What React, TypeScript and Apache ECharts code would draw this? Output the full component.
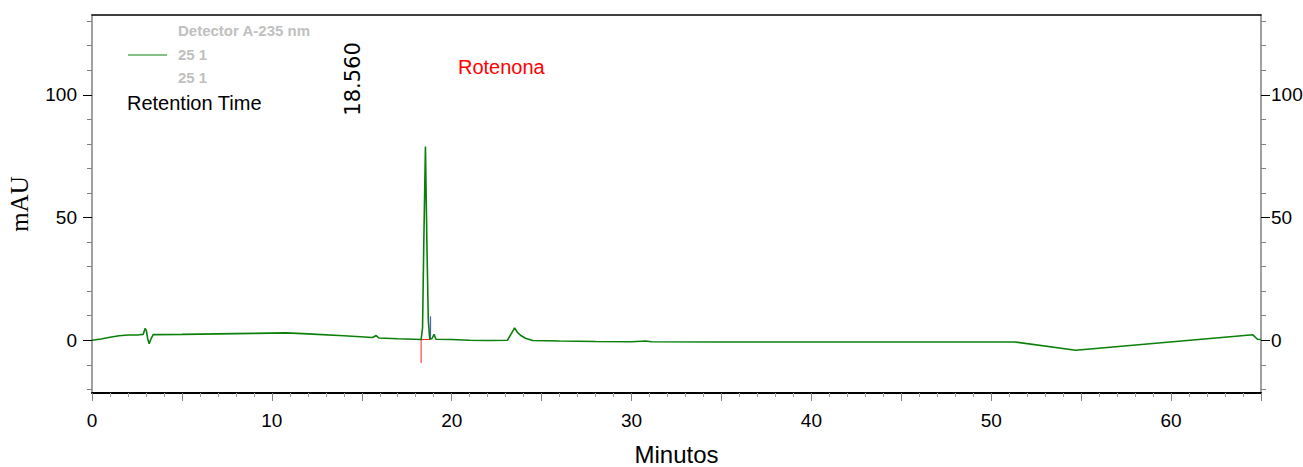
import React, { useEffect, useRef } from "react";
import * as echarts from "echarts";

// Chromatogram trace (minutes, mAU)
const timeMin = [
  0, 0.5, 1.0, 1.5, 2.0, 2.6, 2.85, 2.95, 3.02, 3.1, 3.18, 3.28, 3.4, 5, 7, 9, 10.8, 12, 14, 15.6,
  15.8, 15.95, 17, 18.3, 18.38, 18.45, 18.54, 18.62, 18.7, 18.78, 18.9, 19.02, 19.12, 20, 21, 22,
  23.1, 23.3, 23.5, 23.65, 23.87, 24.1, 24.5, 26, 28, 30, 30.8, 31.1, 35, 40, 45, 51.3, 54.7, 64.55,
  64.8, 65,
];
const absorbance = [
  0, 0.5, 1.2, 1.8, 2.1, 2.2, 2.4, 4.8, 4.0, 0.5, -1.4, 0.5, 2.3, 2.4, 2.6, 2.8, 3.0, 2.6, 1.8, 1.1,
  1.9, 0.9, 0.6, 0.3, 5, 40, 78.9, 40, 8, 0.5, 0.6, 2.4, 0.4, 0.3, 0.0, -0.1,
  0.0, 2.5, 5.0, 3.2, 1.8, 0.8, -0.1, -0.3, -0.5, -0.6, -0.3, -0.6, -0.7, -0.7, -0.7, -0.7, -4.1, 2.2,
  0.4, 0.3,
];

// Integration markers
const redMarkT = [18.3, 18.3, 18.82];
const redMarkV = [-9.3, 0.3, 0.3];
const blueMarkT = [18.82, 18.82];
const blueMarkV = [0.3, 9.8];

// Axes
const xLabelValues = [0, 10, 20, 30, 40, 50, 60];
const yLabelValues = [0, 50, 100];
const yMinorTickValues = [-20, -10, 0, 10, 20, 30, 40, 50, 60, 70, 80, 90, 100, 110, 120, 130];
const xMin = 0;
const xMax = 65;
const yMin = -21.5;
const yMax = 132.5;

const peakLabel = "18.560";
const compoundName = "Rotenona";
const legendTitle = "Detector A-235 nm";
const legendLines = ["25 1", "25 1"];

const narrow = "'Liberation Sans Narrow', 'Liberation Sans', Arial, sans-serif";
const sans = "'Liberation Sans', Arial, sans-serif";

export default function App() {
  const ref = useRef<HTMLDivElement>(null);

  useEffect(() => {
    if (!ref.current) return;
    const chart = echarts.init(ref.current, undefined, { renderer: "svg" });

    const pairs = (t: number[], v: number[]) => t.map((x, i) => [x, v[i]]);

    const yBase = {
      type: "value",
      min: yMin,
      max: yMax,
      splitLine: { show: false },
    };

    chart.setOption({
      animation: false,
      backgroundColor: "#ffffff",
      grid: {
        left: 92,
        right: 42,
        top: 15,
        bottom: 74,
        containLabel: false,
        outerBoundsMode: "none",
      },
      xAxis: [
        {
          type: "value",
          min: xMin,
          max: xMax,
          interval: 5,
          position: "bottom",
          name: "Minutos",
          nameLocation: "middle",
          nameGap: 49,
          nameTextStyle: { fontFamily: sans, fontSize: 24, color: "#000" },
          axisLine: { show: true, onZero: false, lineStyle: { color: "#000", width: 2 } },
          axisTick: { show: true, length: 8, lineStyle: { color: "#808080", width: 1 } },
          minorTick: { show: true, splitNumber: 5, length: 4, lineStyle: { color: "#a0a0a0", width: 1 } },
          axisLabel: {
            customValues: xLabelValues,
            fontFamily: narrow,
            fontSize: 19,
            color: "#000",
            margin: 18,
          },
          splitLine: { show: false },
        },
        {
          type: "value",
          min: xMin,
          max: xMax,
          position: "top",
          axisLine: { show: true, onZero: false, lineStyle: { color: "#000", width: 1.5 } },
          axisTick: { show: false },
          axisLabel: { show: false },
          splitLine: { show: false },
        },
      ],
      yAxis: [
        {
          ...yBase,
          position: "left",
          name: "mAU",
          nameLocation: "middle",
          nameGap: 60,
          nameRotate: 90,
          nameTextStyle: { fontFamily: "'Liberation Serif', 'Times New Roman', serif", fontSize: 25, color: "#000" },
          axisLine: { show: true, onZero: false, lineStyle: { color: "#808080", width: 1.5 } },
          axisTick: { show: true, customValues: yMinorTickValues, length: 5, lineStyle: { color: "#808080" } },
          axisLabel: { customValues: yLabelValues, fontFamily: narrow, fontSize: 19, color: "#000", margin: 15 },
        },
        {
          ...yBase,
          position: "left",
          axisLine: { show: false, onZero: false },
          axisTick: { show: true, customValues: yLabelValues, length: 9, lineStyle: { color: "#000" } },
          axisLabel: { show: false },
        },
        {
          ...yBase,
          position: "right",
          axisLine: { show: true, onZero: false, lineStyle: { color: "#808080", width: 1.5 } },
          axisTick: { show: true, customValues: yMinorTickValues, length: 5, lineStyle: { color: "#808080" } },
          axisLabel: { customValues: yLabelValues, fontFamily: narrow, fontSize: 19, color: "#000", margin: 10 },
        },
        {
          ...yBase,
          position: "right",
          axisLine: { show: false, onZero: false },
          axisTick: { show: true, customValues: yLabelValues, length: 9, lineStyle: { color: "#000" } },
          axisLabel: { show: false },
        },
      ],
      series: [
        {
          type: "line",
          xAxisIndex: 0,
          yAxisIndex: 0,
          data: pairs(timeMin, absorbance),
          showSymbol: false,
          symbol: "none",
          lineStyle: { color: "#0a800a", width: 1.6 },
          z: 3,
        },
        {
          type: "line",
          xAxisIndex: 0,
          yAxisIndex: 0,
          data: pairs(redMarkT, redMarkV),
          showSymbol: false,
          symbol: "none",
          lineStyle: { color: "#ff2020", width: 1 },
          z: 2,
        },
        {
          type: "line",
          xAxisIndex: 0,
          yAxisIndex: 0,
          data: pairs(blueMarkT, blueMarkV),
          showSymbol: false,
          symbol: "none",
          lineStyle: { color: "#5050ff", width: 1.2 },
          z: 2,
        },
      ],
      graphic: [
        {
          type: "text",
          left: 178,
          top: 23,
          style: { text: legendTitle, fontFamily: sans, fontWeight: "bold", fontSize: 15, fill: "#c0c0c0" },
        },
        {
          type: "line",
          shape: { x1: 128, y1: 55, x2: 167, y2: 55 },
          style: { stroke: "#0a800a", lineWidth: 1.2 },
        },
        {
          type: "text",
          left: 178,
          top: 47,
          style: { text: legendLines[0], fontFamily: sans, fontWeight: "bold", fontSize: 15, fill: "#c0c0c0" },
        },
        {
          type: "text",
          left: 178,
          top: 70,
          style: { text: legendLines[1], fontFamily: sans, fontWeight: "bold", fontSize: 15, fill: "#c0c0c0" },
        },
        {
          type: "text",
          left: 127,
          top: 93,
          style: { text: "Retention Time", fontFamily: sans, fontSize: 20, fill: "#000" },
        },
        {
          type: "text",
          x: 352.5,
          y: 79,
          rotation: Math.PI / 2,
          style: {
            text: peakLabel,
            fontFamily: "'DejaVu Sans', sans-serif",
            fontSize: 21,
            fill: "#000",
            align: "center",
            verticalAlign: "middle",
          },
        },
        {
          type: "text",
          left: 458,
          top: 57,
          style: { text: compoundName, fontFamily: sans, fontSize: 20, fill: "#ff0000" },
        },
      ],
    });

    return () => chart.dispose();
  }, []);

  return (
    <div
      ref={ref}
      style={{ position: "fixed", left: 0, top: 0, width: 1303, height: 467, background: "#fff" }}
    />
  );
}
